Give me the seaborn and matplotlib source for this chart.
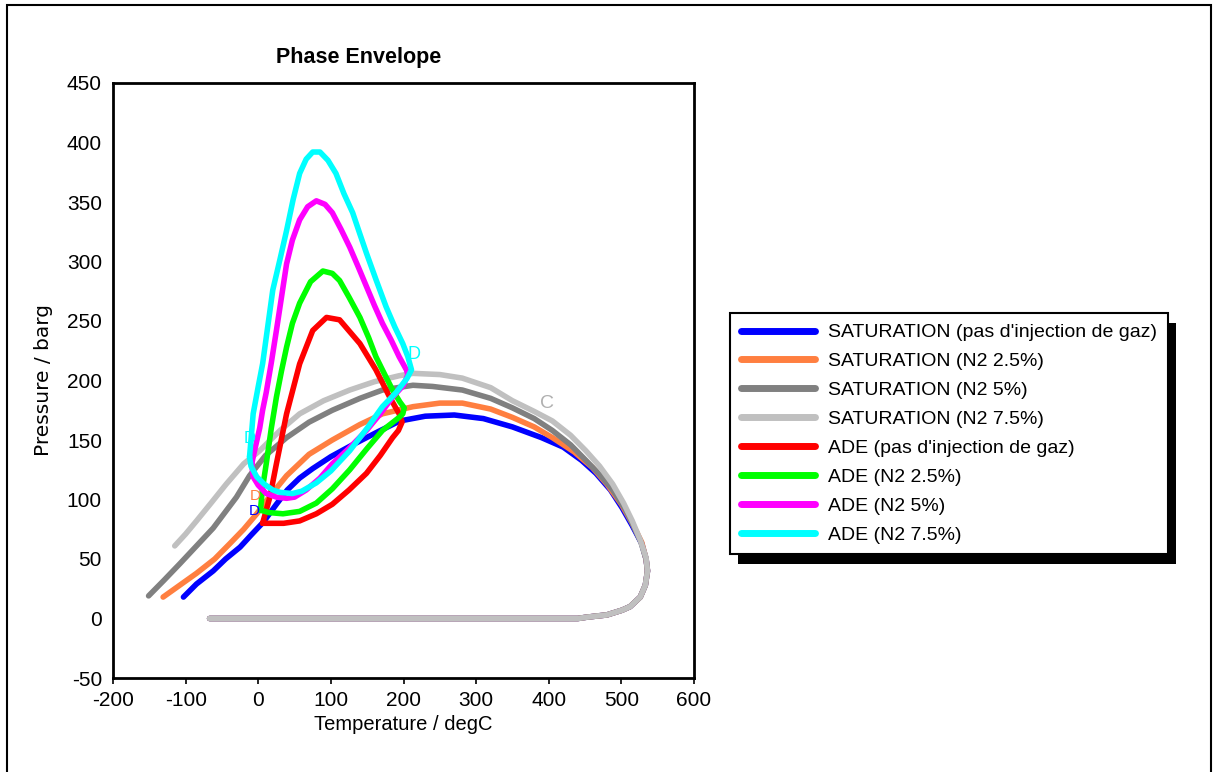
import numpy as np
import pandas as pd
import matplotlib
matplotlib.use("Agg")
import matplotlib.pyplot as plt
from matplotlib.patches import Rectangle
from matplotlib.lines import Line2D
import seaborn as sns

# ---------------- data ----------------
series_names = [
    "SATURATION (pas d'injection de gaz)",
    "SATURATION (N2 2.5%)",
    "SATURATION (N2 5%)",
    "SATURATION (N2 7.5%)",
    "ADE (pas d'injection de gaz)",
    "ADE (N2 2.5%)",
    "ADE (N2 5%)",
    "ADE (N2 7.5%)",
]
series_colors = ["#0000FF", "#FF7F40", "#808080", "#C0C0C0",
                 "#FF0000", "#00FF00", "#FF00FF", "#00FFFF"]

# lower (dew) branch shared by saturation curves, back to P = 0
dew_T = [536, 533, 526, 512, 501, 480, 465, 451, 440, -67]
dew_P = [40, 28, 18, 10, 7, 3, 2, 1, 0, 0]

sat0_T = [-103, -85, -62, -45, -25, -10, 7, 25, 40, 57, 75, 100, 130, 165, 195, 230, 270,
          310, 350, 390, 420, 445, 465, 485, 501, 515, 528, 534]
sat0_P = [18, 29, 40, 50, 60, 70, 81, 96, 108, 118, 126, 136, 146, 157, 166, 170, 171,
          168, 161, 152, 144, 133, 122, 108, 93, 78, 63, 50]

sat1_T = [-131, -108, -85, -60, -39, -20, -2, 15, 39, 70, 102, 140, 171, 213, 250,
          281, 320, 350, 380, 405, 435, 460, 480, 500, 515, 528, 534]
sat1_P = [18, 28, 38, 50, 63, 75, 88, 102, 120, 138, 150, 163, 172, 178, 181,
          181, 176, 169, 161, 152, 140, 127, 113, 96, 80, 64, 50]

sat2_T = [-151, -130, -108, -85, -62, -30, -12, 10, 39, 70, 102, 140, 171, 213, 240,
          281, 320, 350, 380, 405, 430, 451, 470, 488, 505, 515, 527, 534]
sat2_P = [19, 32, 46, 61, 76, 102, 120, 137, 152, 165, 175, 185, 192, 196, 195,
          192, 185, 177, 168, 158, 146, 133, 121, 108, 92, 80, 64, 50]

sat3_T = [-115, -100, -85, -65, -44, -20, 2, 30, 57, 90, 126, 160, 194, 213, 250,
          281, 320, 350, 380, 405, 430, 451, 470, 488, 503, 515, 526, 534]
sat3_P = [61, 71, 82, 97, 113, 130, 141, 158, 172, 183, 192, 199, 204, 206, 205,
          202, 194, 183, 174, 166, 154, 141, 128, 113, 97, 82, 66, 51]

ade0_T = [6, 16, 25, 39, 57, 75, 94, 112, 140, 162, 181, 194, 198, 193, 185, 168,
          149, 125, 102, 80, 57, 35, 20, 6]
ade0_P = [80, 102, 130, 172, 214, 242, 253, 251, 231, 209, 186, 172, 165, 158, 152, 137,
          122, 108, 96, 88, 82, 80, 80, 80]

ade1_T = [3, 6, 11, 18, 25, 32, 39, 47, 57, 72, 89, 102, 112, 125, 140, 152, 162, 175,
          185, 195, 201, 199, 194, 171, 150, 126, 102, 80, 57, 34, 15, 3]
ade1_P = [91, 110, 130, 160, 186, 208, 228, 248, 265, 283, 292, 290, 284, 270, 253, 236,
          220, 204, 192, 182, 177, 172, 169, 158, 143, 125, 109, 97, 90, 88, 89, 91]

ade2_T = [-9, -4, 2, 6, 11, 18, 25, 32, 39, 47, 57, 68, 80, 92, 102, 114, 126, 138, 149,
          160, 171, 183, 194, 204, 206, 200, 185, 168, 149, 125, 102, 85, 66, 50, 39,
          25, 11, 0, -7, -9]
ade2_P = [130, 144, 160, 175, 190, 215, 242, 270, 298, 318, 335, 346, 351, 348, 341, 327,
          312, 295, 279, 263, 248, 234, 220, 209, 205, 196, 186, 172, 158, 143, 130, 118,
          108, 102, 101, 102, 105, 112, 119, 130]

ade3_T = [-12, -10, -7, 0, 6, 13, 20, 30, 39, 48, 57, 66, 75, 85, 96, 107, 118, 130, 140,
          149, 162, 176, 188, 199, 206, 211, 205, 190, 171, 150, 126, 100, 80, 60, 47,
          30, 20, 8, -2, -10, -12]
ade3_P = [136, 150, 172, 195, 214, 245, 276, 302, 326, 352, 374, 386, 392, 392, 385, 374,
          357, 341, 323, 307, 285, 262, 245, 231, 220, 209, 202, 190, 178, 160, 141, 124,
          114, 107, 105, 106, 108, 113, 119, 128, 136]

x_ticks = [-200, -100, 0, 100, 200, 300, 400, 500, 600]
y_ticks = [-50, 0, 50, 100, 150, 200, 250, 300, 350, 400, 450]

# ---------------- build long table ----------------
curves = [
    (sat0_T + dew_T, sat0_P + dew_P),
    (sat1_T + dew_T, sat1_P + dew_P),
    (sat2_T + dew_T, sat2_P + dew_P),
    (sat3_T + dew_T, sat3_P + dew_P),
    (ade0_T, ade0_P), (ade1_T, ade1_P), (ade2_T, ade2_P), (ade3_T, ade3_P),
]
frames = []
for name, (T, P) in zip(series_names, curves):
    frames.append(pd.DataFrame({"series": name, "T": T, "P": P}))
df = pd.concat(frames, ignore_index=True)

# ---------------- plot ----------------
sns.set_style("white")
plt.rcParams["font.family"] = ["Liberation Sans", "DejaVu Sans"]
plt.rcParams["axes.unicode_minus"] = False
for k in ["text.color", "axes.labelcolor", "xtick.color", "ytick.color"]:
    plt.rcParams[k] = "black"

fig = plt.figure(figsize=(12.15, 7.72), dpi=100)
ax = fig.add_axes([113 / 1215, 1 - 678 / 772, (694 - 113) / 1215, (678 - 83) / 772])

palette = dict(zip(series_names, series_colors))
sns.lineplot(data=df, x="T", y="P", hue="series", hue_order=series_names,
             palette=palette, sort=False, estimator=None, units="series",
             linewidth=4.0, legend=False, ax=ax)

ax.set_xlim(-200, 600)
ax.set_ylim(-50, 450)
ax.set_xticks(x_ticks)
ax.set_yticks(y_ticks)
ax.tick_params(axis="x", direction="out", length=4, width=1.2, color="black",
               labelsize=15, pad=5, bottom=True)
ax.tick_params(axis="y", length=0, labelsize=15, pad=8, left=False)
for s in ax.spines.values():
    s.set_visible(True)
    s.set_color("black")
    s.set_linewidth(2)
ax.set_xlabel("Temperature / degC", fontsize=14.5, labelpad=4)
ax.set_ylabel("Pressure / barg", fontsize=14.5, labelpad=10,
              family=["DejaVu Sans"])
ax.grid(False)

# small point labels
ax.text(397, 181, "C", color="#B0B0B0", fontsize=14, ha="center", va="center")
ax.text(214, 222, "D", color="#00FFFF", fontsize=13, ha="center", va="center")
ax.text(-12, 151, "D", color="#00FFFF", fontsize=12, ha="center", va="center")
ax.text(-4, 103, "D", color="#FF7F40", fontsize=11, ha="center", va="center")
ax.text(-5, 90, "D", color="#0000FF", fontsize=11, ha="center", va="center")

fig.text(359 / 1215, 1 - 57 / 772, "Phase Envelope", fontsize=15.5,
         fontweight="bold", ha="center", va="center")

# legend
handles = [Line2D([0], [0], color=c, lw=5) for c in series_colors]
leg = fig.legend(handles, series_names, loc="upper left",
                 bbox_to_anchor=(730 / 1215, 1 - 313 / 772),
                 fontsize=14, frameon=True, fancybox=False, framealpha=1,
                 handlelength=3.8, handletextpad=0.7, labelspacing=0.58,
                 borderpad=0.55, borderaxespad=0)
leg.get_frame().set_edgecolor("black")
leg.get_frame().set_linewidth(1.5)
leg.set_zorder(5)

fig.canvas.draw()
bb = leg.get_window_extent()
W, H = fig.bbox.width, fig.bbox.height
shadow = Rectangle(((bb.x0 + 8) / W, (bb.y0 - 10) / H), bb.width / W, bb.height / H,
                   transform=fig.transFigure, facecolor="black", edgecolor="none",
                   zorder=4)
fig.patches.append(shadow)

# figure frame
frame = Rectangle((7 / 1215, -0.05), (1211 - 7) / 1215, 1.05 - 5 / 772,
                  transform=fig.transFigure, fill=False, edgecolor="black",
                  linewidth=1.5, zorder=0)
fig.patches.append(frame)

fig.savefig("out.png", dpi=100)
